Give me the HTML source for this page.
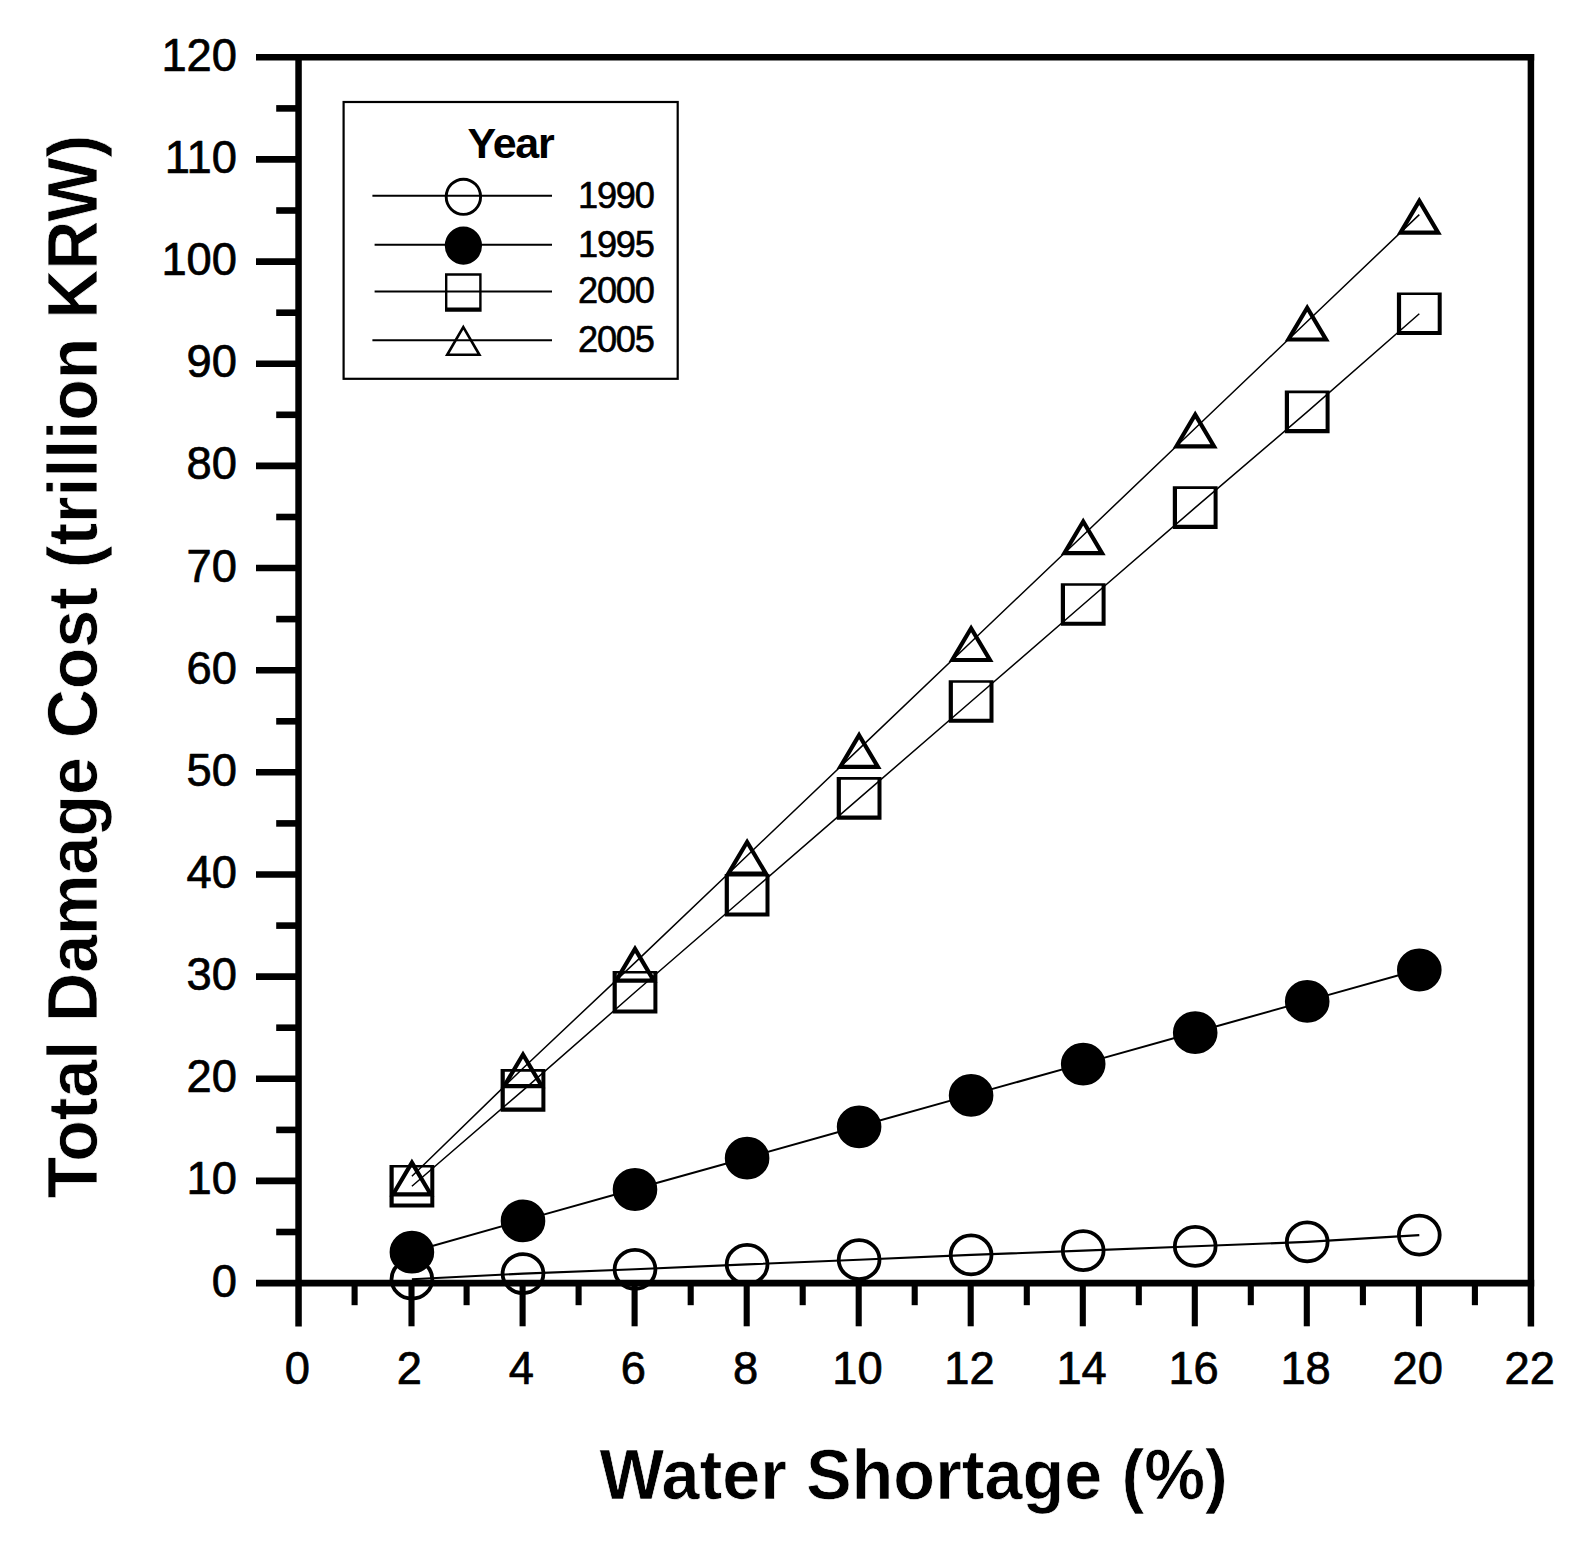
<!DOCTYPE html>
<html lang="en"><head><meta charset="utf-8"><title>Figure</title>
<style>html,body{margin:0;padding:0;background:#fff}svg{display:block}text{font-family:"Liberation Sans", Arial, Helvetica, sans-serif;fill:#000;stroke-linejoin:round}</style></head><body>
<svg width="1595" height="1554" viewBox="0 0 1595 1554">
<rect width="1595" height="1554" fill="#fff"/>
<g stroke="#000" stroke-width="6.6" fill="none">
<line x1="276.2" y1="1232.0" x2="298.6" y2="1232.0"/>
<line x1="256.0" y1="1180.9" x2="298.6" y2="1180.9"/>
<line x1="276.2" y1="1129.9" x2="298.6" y2="1129.9"/>
<line x1="256.0" y1="1078.8" x2="298.6" y2="1078.8"/>
<line x1="276.2" y1="1027.7" x2="298.6" y2="1027.7"/>
<line x1="256.0" y1="976.6" x2="298.6" y2="976.6"/>
<line x1="276.2" y1="925.6" x2="298.6" y2="925.6"/>
<line x1="256.0" y1="874.5" x2="298.6" y2="874.5"/>
<line x1="276.2" y1="823.4" x2="298.6" y2="823.4"/>
<line x1="256.0" y1="772.3" x2="298.6" y2="772.3"/>
<line x1="276.2" y1="721.3" x2="298.6" y2="721.3"/>
<line x1="256.0" y1="670.2" x2="298.6" y2="670.2"/>
<line x1="276.2" y1="619.1" x2="298.6" y2="619.1"/>
<line x1="256.0" y1="568.0" x2="298.6" y2="568.0"/>
<line x1="276.2" y1="517.0" x2="298.6" y2="517.0"/>
<line x1="256.0" y1="465.9" x2="298.6" y2="465.9"/>
<line x1="276.2" y1="414.8" x2="298.6" y2="414.8"/>
<line x1="256.0" y1="363.7" x2="298.6" y2="363.7"/>
<line x1="276.2" y1="312.7" x2="298.6" y2="312.7"/>
<line x1="256.0" y1="261.6" x2="298.6" y2="261.6"/>
<line x1="276.2" y1="210.5" x2="298.6" y2="210.5"/>
<line x1="256.0" y1="159.4" x2="298.6" y2="159.4"/>
<line x1="276.2" y1="108.4" x2="298.6" y2="108.4"/>
<line x1="256.0" y1="57.3" x2="1534.2" y2="57.3"/>
<line x1="256.0" y1="1283.1" x2="1534.2" y2="1283.1"/>
</g>
<g stroke="#000" stroke-width="6.1" fill="none">
<line x1="354.6" y1="1283.1" x2="354.6" y2="1305.2"/>
<line x1="411.5" y1="1283.1" x2="411.5" y2="1326.3"/>
<line x1="466.6" y1="1283.1" x2="466.6" y2="1305.2"/>
<line x1="522.6" y1="1283.1" x2="522.6" y2="1326.3"/>
<line x1="578.6" y1="1283.1" x2="578.6" y2="1305.2"/>
<line x1="634.6" y1="1283.1" x2="634.6" y2="1326.3"/>
<line x1="690.7" y1="1283.1" x2="690.7" y2="1305.2"/>
<line x1="746.7" y1="1283.1" x2="746.7" y2="1326.3"/>
<line x1="802.7" y1="1283.1" x2="802.7" y2="1305.2"/>
<line x1="858.7" y1="1283.1" x2="858.7" y2="1326.3"/>
<line x1="914.7" y1="1283.1" x2="914.7" y2="1305.2"/>
<line x1="970.7" y1="1283.1" x2="970.7" y2="1326.3"/>
<line x1="1026.8" y1="1283.1" x2="1026.8" y2="1305.2"/>
<line x1="1082.8" y1="1283.1" x2="1082.8" y2="1326.3"/>
<line x1="1138.8" y1="1283.1" x2="1138.8" y2="1305.2"/>
<line x1="1194.8" y1="1283.1" x2="1194.8" y2="1326.3"/>
<line x1="1250.8" y1="1283.1" x2="1250.8" y2="1305.2"/>
<line x1="1306.8" y1="1283.1" x2="1306.8" y2="1326.3"/>
<line x1="1362.9" y1="1283.1" x2="1362.9" y2="1305.2"/>
<line x1="1418.9" y1="1283.1" x2="1418.9" y2="1326.3"/>
<line x1="1474.9" y1="1283.1" x2="1474.9" y2="1305.2"/>
<line x1="298.55" y1="54.0" x2="298.55" y2="1326.4" stroke-width="6.5"/>
<line x1="1530.90" y1="54.0" x2="1530.90" y2="1326.4" stroke-width="6.5"/>
</g>
<g font-size="45.3" text-anchor="end" stroke="#000" stroke-width="0.7">
<text x="237" y="1296.6">0</text>
<text x="237" y="1194.4">10</text>
<text x="237" y="1092.3">20</text>
<text x="237" y="990.1">30</text>
<text x="237" y="888.0">40</text>
<text x="237" y="785.8">50</text>
<text x="237" y="683.7">60</text>
<text x="237" y="581.5">70</text>
<text x="237" y="479.4">80</text>
<text x="237" y="377.2">90</text>
<text x="237" y="275.1">100</text>
<text x="237" y="172.9">110</text>
<text x="237" y="70.8">120</text>
</g>
<g font-size="45.3" text-anchor="middle" stroke="#000" stroke-width="0.7">
<text x="297.4" y="1384.2">0</text>
<text x="409.4" y="1384.2">2</text>
<text x="521.4" y="1384.2">4</text>
<text x="633.4" y="1384.2">6</text>
<text x="745.5" y="1384.2">8</text>
<text x="857.5" y="1384.2">10</text>
<text x="969.5" y="1384.2">12</text>
<text x="1081.6" y="1384.2">14</text>
<text x="1193.6" y="1384.2">16</text>
<text x="1305.6" y="1384.2">18</text>
<text x="1417.7" y="1384.2">20</text>
<text x="1529.7" y="1384.2">22</text>
</g>
<text transform="translate(913.6 1498.9) scale(0.9774 1)" font-size="70" font-weight="bold" text-anchor="middle" stroke="#fff" stroke-width="0.7">Water Shortage (%)</text>
<text transform="translate(96.7 666.6) rotate(-90) scale(0.972 1)" font-size="70" font-weight="bold" text-anchor="middle" stroke="#fff" stroke-width="0.7">Total Damage Cost (trillion KRW)</text>
<g>
<polyline fill="none" stroke="#000" stroke-width="2.10" points="411.9,1279.2 523.0,1273.6 635.0,1269.3 747.1,1264.4 859.1,1259.7 971.1,1254.9 1083.2,1250.6 1195.2,1246.3 1307.2,1241.9 1419.3,1235.1"/>
<ellipse cx="411.9" cy="1279.2" rx="20.4" ry="19.5" fill="none" stroke="#000" stroke-width="3.8"/>
<ellipse cx="523.0" cy="1273.6" rx="20.4" ry="19.5" fill="none" stroke="#000" stroke-width="3.8"/>
<ellipse cx="635.0" cy="1269.3" rx="20.4" ry="19.5" fill="none" stroke="#000" stroke-width="3.8"/>
<ellipse cx="747.1" cy="1264.4" rx="20.4" ry="19.5" fill="none" stroke="#000" stroke-width="3.8"/>
<ellipse cx="859.1" cy="1259.7" rx="20.4" ry="19.5" fill="none" stroke="#000" stroke-width="3.8"/>
<ellipse cx="971.1" cy="1254.9" rx="20.4" ry="19.5" fill="none" stroke="#000" stroke-width="3.8"/>
<ellipse cx="1083.2" cy="1250.6" rx="20.4" ry="19.5" fill="none" stroke="#000" stroke-width="3.8"/>
<ellipse cx="1195.2" cy="1246.3" rx="20.4" ry="19.5" fill="none" stroke="#000" stroke-width="3.8"/>
<ellipse cx="1307.2" cy="1241.9" rx="20.4" ry="19.5" fill="none" stroke="#000" stroke-width="3.8"/>
<ellipse cx="1419.3" cy="1235.1" rx="20.4" ry="19.5" fill="none" stroke="#000" stroke-width="3.8"/>
</g><g>
<polyline fill="none" stroke="#000" stroke-width="2.00" points="411.9,1251.7 523.0,1220.4 635.0,1189.0 747.1,1157.7 859.1,1126.3 971.1,1094.9 1083.2,1063.6 1195.2,1032.2 1307.2,1000.9 1419.3,969.5"/>
<ellipse cx="411.9" cy="1252.2" rx="20.4" ry="19.5" fill="#000" stroke="#000" stroke-width="3.8"/>
<ellipse cx="523.0" cy="1220.9" rx="20.4" ry="19.5" fill="#000" stroke="#000" stroke-width="3.8"/>
<ellipse cx="635.0" cy="1189.5" rx="20.4" ry="19.5" fill="#000" stroke="#000" stroke-width="3.8"/>
<ellipse cx="747.1" cy="1158.2" rx="20.4" ry="19.5" fill="#000" stroke="#000" stroke-width="3.8"/>
<ellipse cx="859.1" cy="1126.8" rx="20.4" ry="19.5" fill="#000" stroke="#000" stroke-width="3.8"/>
<ellipse cx="971.1" cy="1095.4" rx="20.4" ry="19.5" fill="#000" stroke="#000" stroke-width="3.8"/>
<ellipse cx="1083.2" cy="1064.1" rx="20.4" ry="19.5" fill="#000" stroke="#000" stroke-width="3.8"/>
<ellipse cx="1195.2" cy="1032.7" rx="20.4" ry="19.5" fill="#000" stroke="#000" stroke-width="3.8"/>
<ellipse cx="1307.2" cy="1001.4" rx="20.4" ry="19.5" fill="#000" stroke="#000" stroke-width="3.8"/>
<ellipse cx="1419.3" cy="970.0" rx="20.4" ry="19.5" fill="#000" stroke="#000" stroke-width="3.8"/>
</g><g>
<polyline fill="none" stroke="#000" stroke-width="1.50" points="411.9,1186.2 523.0,1090.4 635.0,992.3 747.1,895.3 859.1,798.4 971.1,701.5 1083.2,604.5 1195.2,507.6 1307.2,411.9 1419.3,313.7"/>
<path fill="#000" fill-rule="evenodd" d="M389.5 1164.9H434.3V1207.5H389.5ZM393.7 1167.5H430.3V1203.4H393.7Z"/>
<path fill="#000" fill-rule="evenodd" d="M500.6 1069.1H545.4V1111.7H500.6ZM504.8 1071.7H541.4V1107.6H504.8Z"/>
<path fill="#000" fill-rule="evenodd" d="M612.6 971.0H657.4V1013.6H612.6ZM616.8 973.6H653.4V1009.5H616.8Z"/>
<path fill="#000" fill-rule="evenodd" d="M724.7 874.0H769.5V916.6H724.7ZM728.9 876.6H765.5V912.5H728.9Z"/>
<path fill="#000" fill-rule="evenodd" d="M836.7 777.1H881.5V819.7H836.7ZM840.9 779.7H877.5V815.6H840.9Z"/>
<path fill="#000" fill-rule="evenodd" d="M948.7 680.2H993.5V722.8H948.7ZM952.9 682.8H989.5V718.7H952.9Z"/>
<path fill="#000" fill-rule="evenodd" d="M1060.8 583.2H1105.6V625.8H1060.8ZM1065.0 585.8H1101.6V621.7H1065.0Z"/>
<path fill="#000" fill-rule="evenodd" d="M1172.8 486.3H1217.6V528.9H1172.8ZM1177.0 488.9H1213.6V524.8H1177.0Z"/>
<path fill="#000" fill-rule="evenodd" d="M1284.8 390.6H1329.6V433.2H1284.8ZM1289.0 393.2H1325.6V429.1H1289.0Z"/>
<path fill="#000" fill-rule="evenodd" d="M1396.9 292.4H1441.7V335.0H1396.9ZM1401.1 295.0H1437.7V330.9H1401.1Z"/>
</g><g>
<polyline fill="none" stroke="#000" stroke-width="1.50" points="411.9,1176.3 523.0,1068.2 635.0,962.6 747.1,855.7 859.1,748.9 971.1,642.0 1083.2,535.2 1195.2,428.3 1307.2,321.5 1419.3,214.6"/>
<path d="M411.9 1162.6L430.7 1194.3L393.1 1194.3Z" fill="none" stroke="#000" stroke-width="4.2" stroke-linejoin="miter"/>
<path d="M523.0 1054.5L541.8 1086.2L504.2 1086.2Z" fill="none" stroke="#000" stroke-width="4.2" stroke-linejoin="miter"/>
<path d="M635.0 948.9L653.8 980.6L616.2 980.6Z" fill="none" stroke="#000" stroke-width="4.2" stroke-linejoin="miter"/>
<path d="M747.1 842.0L765.9 873.7L728.3 873.7Z" fill="none" stroke="#000" stroke-width="4.2" stroke-linejoin="miter"/>
<path d="M859.1 735.2L877.9 766.9L840.3 766.9Z" fill="none" stroke="#000" stroke-width="4.2" stroke-linejoin="miter"/>
<path d="M971.1 628.3L989.9 660.0L952.3 660.0Z" fill="none" stroke="#000" stroke-width="4.2" stroke-linejoin="miter"/>
<path d="M1083.2 521.5L1102.0 553.2L1064.4 553.2Z" fill="none" stroke="#000" stroke-width="4.2" stroke-linejoin="miter"/>
<path d="M1195.2 414.6L1214.0 446.3L1176.4 446.3Z" fill="none" stroke="#000" stroke-width="4.2" stroke-linejoin="miter"/>
<path d="M1307.2 307.8L1326.0 339.5L1288.4 339.5Z" fill="none" stroke="#000" stroke-width="4.2" stroke-linejoin="miter"/>
<path d="M1419.3 200.9L1438.1 232.6L1400.5 232.6Z" fill="none" stroke="#000" stroke-width="4.2" stroke-linejoin="miter"/>
</g>
<rect x="343.6" y="102" width="334.1" height="276.8" fill="none" stroke="#000" stroke-width="2.2"/>
<text x="510.6" y="158.2" font-size="43" font-weight="bold" text-anchor="middle" letter-spacing="-1.2">Year</text>
<line x1="372.4" y1="195.8" x2="552" y2="195.8" stroke="#000" stroke-width="2.10"/>
<line x1="374.6" y1="244.7" x2="552" y2="244.7" stroke="#000" stroke-width="2.10"/>
<line x1="374.6" y1="291.5" x2="552" y2="291.5" stroke="#000" stroke-width="2.10"/>
<line x1="372.4" y1="340.2" x2="552" y2="340.2" stroke="#000" stroke-width="2.10"/>
<ellipse cx="463.4" cy="196.8" rx="17.2" ry="17.6" fill="none" stroke="#000" stroke-width="2.9"/>
<ellipse cx="463.4" cy="245.6" rx="17.2" ry="17.6" fill="#000" stroke="#000" stroke-width="2.9"/>
<path fill="#000" fill-rule="evenodd" d="M445.0 273.3H481.6V311.7H445.0ZM447.4 275.7H479.2V307.4H447.4Z"/>
<path d="M463.3 327.1L479.4 354.8L447.2 354.8Z" fill="none" stroke="#000" stroke-width="2.6" stroke-linejoin="miter"/>
<g font-size="36.2" letter-spacing="-1.2" stroke="#000" stroke-width="0.6">
<text x="578" y="207.6">1990</text>
<text x="578" y="256.5">1995</text>
<text x="578" y="303.3">2000</text>
<text x="578" y="352.0">2005</text>
</g>
</svg></body></html>
